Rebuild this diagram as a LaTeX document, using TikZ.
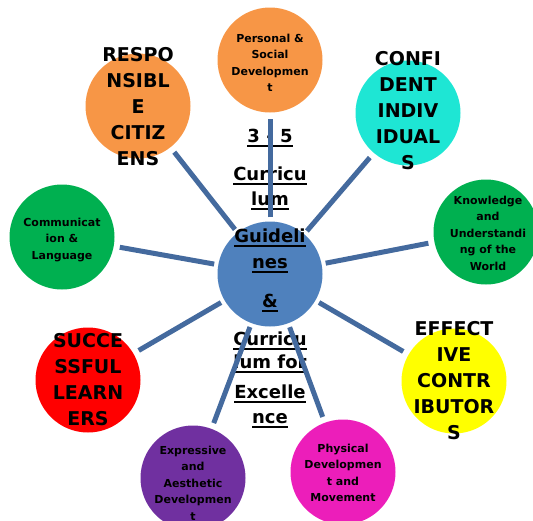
\documentclass[tikz,border=0pt]{standalone}
\usepackage{fontspec}
\setmainfont{DejaVu Sans}
\definecolor{hubblue}{RGB}{79,129,189}
\definecolor{spokeblue}{RGB}{68,106,158}
\definecolor{psdorange}{RGB}{247,150,70}
\definecolor{ciaqua}{RGB}{30,230,212}
\definecolor{leafgreen}{RGB}{0,176,80}
\definecolor{slred}{RGB}{255,0,0}
\definecolor{ecyellow}{RGB}{255,255,0}
\definecolor{eadpurple}{RGB}{112,48,160}
\definecolor{pdmagenta}{RGB}{236,30,186}
\newcommand{\ulbar}[1]{\setbox0\hbox{#1}\rlap{\raisebox{-4.5pt}{\rule{\wd0}{1.8pt}}}\box0}

\begin{document}
\begin{tikzpicture}[
    x=1pt, y=-1pt,
    bubble/.style={circle, minimum size=105pt, inner sep=0pt},
    bigcaps/.style={align=center, inner sep=0pt, font=\fontsize{19}{26}\selectfont\bfseries},
    smallcaps/.style={align=center, inner sep=0pt, font=\fontsize{11}{16.5}\selectfont\bfseries},
    hubtxt/.style={anchor=base, inner sep=0pt, font=\fontsize{18}{22}\selectfont\bfseries},
    spoke/.style={line width=5pt, spokeblue, shorten >=6pt, shorten <=4pt}
]
\clip (0,0) rectangle (533,520);

% Circles
\node[bubble, fill=hubblue] (hub) at (270,274) {};
\node[bubble, fill=psdorange] (psd) at (270,60) {};
\node[bubble, fill=psdorange] (rc) at (138,106) {};
\node[bubble, fill=ciaqua] (ci) at (408,113) {};
\node[bubble, fill=leafgreen] (cl) at (62,237) {};
\node[bubble, fill=leafgreen] (kuw) at (486,232) {};
\node[bubble, fill=slred] (sl) at (88,380) {};
\node[bubble, fill=ecyellow] (ec) at (454,381) {};
\node[bubble, fill=eadpurple] (ead) at (193,478) {};
\node[bubble, fill=pdmagenta] (pdm) at (343,472) {};

% Texts
\node[smallcaps] (psd-t) at (270,63) {Personal \&\\Social\\Developmen\\t};
\node[bigcaps] (rc-t) at (138,107) {RESPO\\NSIBL\\E\\CITIZ\\ENS};
\node[bigcaps] (ci-t) at (408,111) {CONFI\\DENT\\INDIV\\IDUAL\\S};
\node[smallcaps] (cl-t) at (62,240) {Communicat\\ion \&\\Language};
\node[smallcaps] (kuw-t) at (488,233) {Knowledge\\and\\Understandi\\ng of the\\World};
\node[bigcaps] (sl-t) at (88,380) {SUCCE\\SSFUL\\LEARN\\ERS};
\node[bigcaps] (ec-t) at (454,381) {EFFECT\\IVE\\CONTR\\IBUTOR\\S};
\node[smallcaps] (ead-t) at (193,483) {Expressive\\and\\Aesthetic\\Developmen\\t};
\node[smallcaps] (pdm-t) at (343,473) {Physical\\Developmen\\t and\\Movement};

% Centre title
\foreach \yy/\txt [count=\i] in {142/3 - 5, 180/Curricu, 205/lum, 242/Guideli, 268/nes,
    307/\&, 345/Curricu, 368/lum for, 398/Excelle, 423/nce}
  \node[hubtxt] (title\i) at (270,\yy) {\ulbar{\txt}};

% Spokes
\foreach \leaf in {psd, rc, ci, cl, kuw, sl, ec, ead, pdm}
  \draw[spoke] (hub) -- (\leaf);

\end{tikzpicture}
\end{document}
